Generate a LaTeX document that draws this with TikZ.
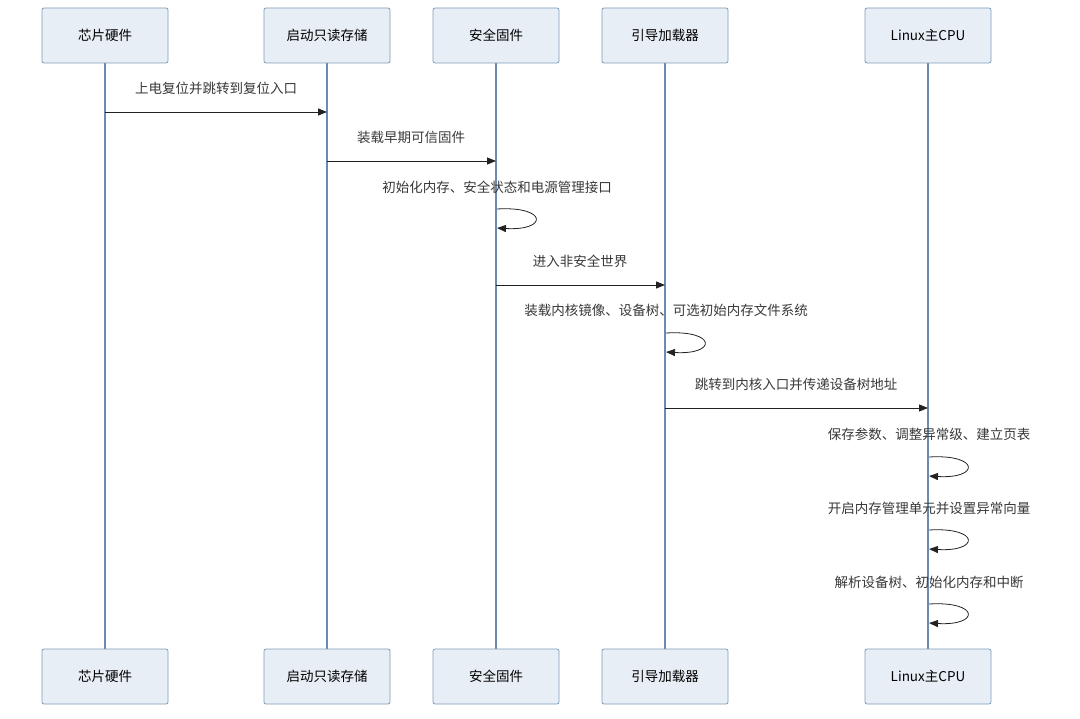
\documentclass[tikz,border=0pt]{standalone}
\usepackage{fontspec}
\setmainfont{Noto Sans CJK SC}
\usetikzlibrary{arrows.meta}
\definecolor{boxfill}{HTML}{E8EEF6}
\definecolor{boxdraw}{HTML}{7F9BB8}
\definecolor{lifeline}{HTML}{6A8CB0}
\definecolor{msg}{HTML}{222222}
\begin{document}
\begin{tikzpicture}[x=1pt,y=-1pt,
  actor/.style={draw=boxdraw,fill=boxfill,rounded corners=2pt,minimum width=126pt,minimum height=55pt,inner sep=0pt,font=\fontsize{13.5}{16}\selectfont,line width=0.8pt},
  life/.style={draw=lifeline,line width=1.6pt},
  msgline/.style={draw=msg,line width=0.8pt,-{Triangle[length=9pt,width=7pt]}},
  lbl/.style={font=\fontsize{13.5}{16}\selectfont,inner sep=0pt,text=msg!90}]
\useasboundingbox (0,0) rectangle (1080,719);
% actors
\foreach \n/\x/\t in {a/105/芯片硬件,b/327/启动只读存储,c/496/安全固件,d/665/引导加载器,e/928/Linux主CPU}{
  \draw[life] (\x,63) -- (\x,649);
  \node[actor] (\n top) at (\x,35.5) {\t};
  \node[actor] (\n bot) at (\x,676.5) {\t};
}
% coordinates on lifelines
\coordinate (a1) at (105,112); \coordinate (b1) at (327,112);
\coordinate (b2) at (327,161); \coordinate (c2) at (496,161);
\coordinate (c4) at (496,285); \coordinate (d4) at (665,285);
\coordinate (d6) at (665,408); \coordinate (e6) at (928,408);
% messages
\node[lbl] (l1) at (216,88) {上电复位并跳转到复位入口};
\draw[msgline] (a1) -- (b1);
\node[lbl] (l2) at (411,137) {装载早期可信固件};
\draw[msgline] (b2) -- (c2);
\node[lbl] (l3) at (497,187) {初始化内存、安全状态和电源管理接口};
\coordinate (c3a) at (497,209); \coordinate (c3b) at (497,228);
\draw[msgline] (c3a) .. controls (548,206) and (548,231) .. (c3b);
\node[lbl] (l4) at (580,261) {进入非安全世界};
\draw[msgline] (c4) -- (d4);
\node[lbl] (l5) at (666,310) {装载内核镜像、设备树、可选初始内存文件系统};
\coordinate (d5a) at (666,333); \coordinate (d5b) at (666,352);
\draw[msgline] (d5a) .. controls (717,330) and (717,355) .. (d5b);
\node[lbl] (l6) at (796,384) {跳转到内核入口并传递设备树地址};
\draw[msgline] (d6) -- (e6);
\node[lbl] (l7) at (929,434) {保存参数、调整异常级、建立页表};
\coordinate (e7a) at (929,457); \coordinate (e7b) at (929,476);
\draw[msgline] (e7a) .. controls (980,454) and (980,479) .. (e7b);
\node[lbl] (l8) at (929,508) {开启内存管理单元并设置异常向量};
\coordinate (e8a) at (929,530); \coordinate (e8b) at (929,549);
\draw[msgline] (e8a) .. controls (980,527) and (980,552) .. (e8b);
\node[lbl] (l9) at (929,582) {解析设备树、初始化内存和中断};
\coordinate (e9a) at (929,604); \coordinate (e9b) at (929,623);
\draw[msgline] (e9a) .. controls (980,601) and (980,626) .. (e9b);
\end{tikzpicture}
\end{document}
